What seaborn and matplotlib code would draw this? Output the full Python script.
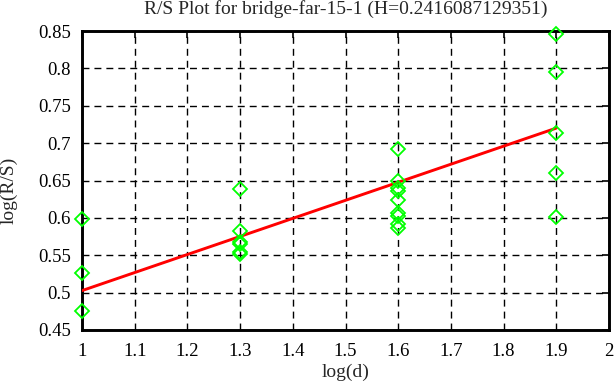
#!/usr/bin/env python3
"""R/S plot for bridge-far-15-1, gnuplot-like styling."""

import matplotlib
matplotlib.use("Agg")
import matplotlib.pyplot as plt
import seaborn as sns
import pandas as pd

# observed log(R/S) values per log(d)
x_1 = [1.0, 1.0, 1.0]
y_1 = [0.598, 0.526, 0.476]
x_13 = [1.3, 1.3, 1.3, 1.3, 1.3, 1.3]
y_13 = [0.638, 0.582, 0.568, 0.565, 0.554, 0.552]
x_16 = [1.6, 1.6, 1.6, 1.6, 1.6, 1.6, 1.6, 1.6, 1.6]
y_16 = [0.692, 0.650, 0.640, 0.636, 0.624, 0.607, 0.603, 0.592, 0.586]
x_19 = [1.9, 1.9, 1.9, 1.9, 1.9]
y_19 = [0.846, 0.795, 0.714, 0.660, 0.601]

# fitted line end points
fit_x = [1.0, 1.9]
fit_y = [0.5027, 0.7201]

x_ticks = [1, 1.1, 1.2, 1.3, 1.4, 1.5, 1.6, 1.7, 1.8, 1.9, 2]
x_tick_labels = ["1", "1.1", "1.2", "1.3", "1.4", "1.5", "1.6", "1.7", "1.8", "1.9", "2"]
y_ticks = [0.45, 0.5, 0.55, 0.6, 0.65, 0.7, 0.75, 0.8, 0.85]
y_tick_labels = ["0.45", "0.5", "0.55", "0.6", "0.65", "0.7", "0.75", "0.8", "0.85"]

df = pd.DataFrame({
    "logd": x_1 + x_13 + x_16 + x_19,
    "logrs": y_1 + y_13 + y_16 + y_19,
})
fit_df = pd.DataFrame({"logd": fit_x, "logrs": fit_y})

sns.set_style("white")
plt.rcParams["font.family"] = ["Liberation Serif", "DejaVu Serif"]

W, H = 616, 387
fig = plt.figure(figsize=(W / 100, H / 100), dpi=100)
ax = fig.add_axes([82 / W, 1 - 330 / H, (609 - 82) / W, (330 - 31) / H])

ax.grid(True, color="black", linestyle=(0, (5, 3.6)), linewidth=1.0)
ax.set_axisbelow(True)

sns.lineplot(data=fit_df, x="logd", y="logrs", ax=ax, color="#ff0000",
             linewidth=2.1, zorder=3)
ax.plot(df["logd"], df["logrs"], linestyle="none", marker="D", markersize=7.5,
        markerfacecolor="none", markeredgecolor="#00ff00", markeredgewidth=1.3,
        zorder=4, clip_on=False)

ax.set_xlim(1, 2)
ax.set_ylim(0.45, 0.85)
ax.set_xticks(x_ticks)
ax.set_xticklabels(x_tick_labels)
ax.set_yticks(y_ticks)
ax.set_yticklabels(y_tick_labels)
ax.tick_params(direction="in", length=5, width=1.2, labelsize=13.5,
               top=True, right=True, colors="black")
ax.tick_params(axis="x", pad=9)
ax.tick_params(axis="y", pad=8)

for side in ax.spines.values():
    side.set_visible(True)
    side.set_color("black")
    side.set_linewidth(2.1)

ax.set_xlabel("")
ax.set_ylabel("")
fig.text(345.5 / W, 1 - 372 / H, "log(d)", fontsize=14, ha="center", va="center")
fig.text(9 / W, 1 - 190 / H, "log(R/S)", fontsize=14, ha="center", va="center",
         rotation=90)
fig.text(345.5 / W, 1 - 9.5 / H, "R/S Plot for bridge-far-15-1 (H=0.2416087129351)",
         fontsize=14, ha="center", va="center")

fig.savefig("out.png", dpi=100)
